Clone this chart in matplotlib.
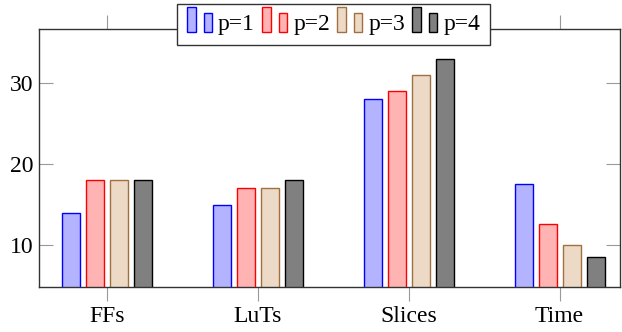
import matplotlib
matplotlib.use("Agg")
import matplotlib.pyplot as plt
import numpy as np
from matplotlib.legend_handler import HandlerBase
from matplotlib.patches import Rectangle

plt.rcParams['font.family'] = ['Liberation Serif', 'DejaVu Serif']
plt.rcParams['mathtext.fontset'] = 'stix'

# Data
categories = ["FFs", "LuTs", "Slices", "Time"]
series_labels = ["p=1", "p=2", "p=3", "p=4"]
p1 = [14, 15, 28, 17.6]
p2 = [18, 17, 29, 12.6]
p3 = [18, 17, 31, 10.0]
p4 = [18, 18, 33, 8.45]
series = [p1, p2, p3, p4]

fills = ["#b3b3ff", "#ffb3b3", "#ecd9c6", "#808080"]
edges = ["#0000ff", "#ff0000", "#a0703f", "#000000"]


class TwoBarHandler(HandlerBase):
    # pgfplots-style ybar legend: two little bars of different height
    def create_artists(self, legend, orig_handle, xdescent, ydescent,
                       width, height, fontsize, trans):
        fc = orig_handle.get_facecolor()
        ec = orig_handle.get_edgecolor()
        w = 0.33 * width
        y0 = -ydescent - 0.12 * height
        r1 = Rectangle((-xdescent, y0), w, 1.55 * height,
                       facecolor=fc, edgecolor=ec, lw=1.0, transform=trans)
        r2 = Rectangle((-xdescent + 0.64 * width, y0), w, 1.15 * height,
                       facecolor=fc, edgecolor=ec, lw=1.0, transform=trans)
        return [r1, r2]


fig = plt.figure(figsize=(6.22, 3.32), dpi=100)
ax = fig.add_axes([0.0627, 0.1355, 0.934, 0.777])

x = np.arange(len(categories))
width = 0.12
step = 0.159
bars = []
for i, vals in enumerate(series):
    b = ax.bar(x + (i - 1.5) * step, vals, width, facecolor=fills[i],
               edgecolor=edges[i], linewidth=1.0, label=series_labels[i], zorder=2)
    bars.append(b[0])

ax.set_xlim(-0.45, 3.40)
ax.set_ylim(4.8, 36.7)
ax.set_yticks([10, 20, 30])
ax.set_xticks(x)
ax.set_xticklabels(categories)

for s in ax.spines.values():
    s.set_linewidth(1.0)
    s.set_color("#333333")

ax.tick_params(axis='y', direction='in', length=10, width=0.8, color='#999999',
               left=True, right=True, labelsize=17, pad=4)
ax.tick_params(axis='x', direction='out', length=10, width=0.8, color='#999999',
               bottom=True, top=True, labelsize=17, pad=4)

leg = ax.legend(bars, series_labels, handler_map={b: TwoBarHandler() for b in bars},
                loc='center', bbox_to_anchor=(0.507, 1.017), ncol=4, fontsize=17,
                frameon=True, fancybox=False, edgecolor='#333333', framealpha=1,
                handlelength=1.1, handletextpad=0.22, columnspacing=0.3,
                borderpad=0.42, borderaxespad=0)
leg.get_frame().set_linewidth(1.0)
leg.set_zorder(5)

fig.savefig("out.png", dpi=100)
